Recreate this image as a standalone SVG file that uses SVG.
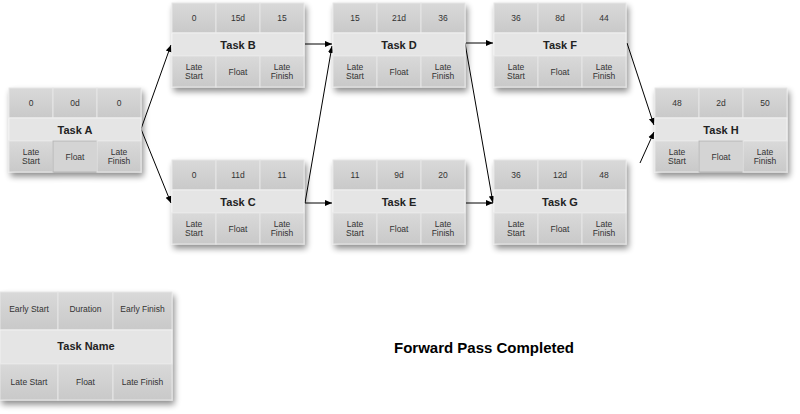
<svg xmlns="http://www.w3.org/2000/svg" width="800" height="414" viewBox="0 0 800 414">
<defs>
<filter id="sh" x="-10%" y="-10%" width="125%" height="135%">
<feGaussianBlur in="SourceAlpha" stdDeviation="3"/>
<feOffset dx="2" dy="4" result="b"/>
<feComponentTransfer><feFuncA type="linear" slope="0.45"/></feComponentTransfer>
<feMerge><feMergeNode/><feMergeNode in="SourceGraphic"/></feMerge>
</filter>
<linearGradient id="cell" x1="0" y1="0" x2="0" y2="1">
<stop offset="0" stop-color="#d9d9d9"/>
<stop offset="1" stop-color="#c9c9c9"/>
</linearGradient>
<marker id="ah" markerWidth="8" markerHeight="8" refX="7" refY="4" orient="auto" markerUnits="userSpaceOnUse">
<path d="M0,1 L7,4 L0,7 Z" fill="#000"/>
</marker>
</defs>
<style>
.cell{fill:url(#cell);stroke:#e6e6e6;stroke-width:1}
.mid{fill:#e5e5e5;stroke:#f2f2f2;stroke-width:1}
.flt{fill:#d4d4d4;stroke:#b0b0b0;stroke-width:0.8}
.num{font-family:"Liberation Sans",Arial,sans-serif;font-size:8.5px;fill:#333;text-anchor:middle}
.nm{font-family:"Liberation Sans",Arial,sans-serif;font-size:11px;font-weight:bold;fill:#222;text-anchor:middle}
.lg{font-family:"Liberation Sans",Arial,sans-serif;font-size:8.5px;fill:#333;text-anchor:middle}
.c{stroke:#000;stroke-width:1;fill:none;marker-end:url(#ah)}
.ttl{font-family:"Liberation Sans",Arial,sans-serif;font-size:15px;font-weight:bold;fill:#000;text-anchor:middle}
</style>

<g id="connectors">
<line class="c" x1="141" y1="129" x2="171" y2="45"/>
<line class="c" x1="141" y1="129" x2="171" y2="203"/>
<line class="c" x1="305" y1="44" x2="332" y2="44"/>
<line class="c" x1="305" y1="203" x2="332" y2="46"/>
<line class="c" x1="305" y1="203" x2="332" y2="203"/>
<line class="c" x1="466" y1="43" x2="493" y2="43"/>
<line class="c" x1="465" y1="43" x2="493" y2="203"/>
<line class="c" x1="466" y1="203" x2="493" y2="203"/>
<line class="c" x1="627" y1="43" x2="654" y2="125"/>
<line class="c" x1="640" y1="163" x2="654" y2="132"/>
</g>

<g id="taskA" transform="translate(9,88)">
<g filter="url(#sh)">
<rect class="cell" x="0" y="0" width="44" height="30"/><rect class="cell" x="44" y="0" width="44" height="30"/><rect class="cell" x="88" y="0" width="44" height="30"/>
<rect class="mid" x="0" y="30" width="132" height="23"/>
<rect class="cell" x="0" y="53" width="44" height="31"/><rect class="flt" x="44" y="53" width="44" height="31"/><rect class="cell" x="88" y="53" width="44" height="31"/>
</g>
<text class="num" x="22" y="18">0</text><text class="num" x="66" y="18">0d</text><text class="num" x="110" y="18">0</text>
<text class="nm" x="66" y="45.5">Task A</text>
<text class="num" x="22" y="67">Late</text><text class="num" x="22" y="76">Start</text>
<text class="num" x="66" y="71.5">Float</text>
<text class="num" x="110" y="67">Late</text><text class="num" x="110" y="76">Finish</text>
</g>

<g id="taskB" transform="translate(172,3)">
<g filter="url(#sh)">
<rect class="cell" x="0" y="0" width="44" height="30"/><rect class="cell" x="44" y="0" width="44" height="30"/><rect class="cell" x="88" y="0" width="44" height="30"/>
<rect class="mid" x="0" y="30" width="132" height="23"/>
<rect class="cell" x="0" y="53" width="44" height="31"/><rect class="cell" x="44" y="53" width="44" height="31"/><rect class="cell" x="88" y="53" width="44" height="31"/>
</g>
<text class="num" x="22" y="18">0</text><text class="num" x="66" y="18">15d</text><text class="num" x="110" y="18">15</text>
<text class="nm" x="66" y="45.5">Task B</text>
<text class="num" x="22" y="67">Late</text><text class="num" x="22" y="76">Start</text>
<text class="num" x="66" y="71.5">Float</text>
<text class="num" x="110" y="67">Late</text><text class="num" x="110" y="76">Finish</text>
</g>

<g id="taskC" transform="translate(172,160)">
<g filter="url(#sh)">
<rect class="cell" x="0" y="0" width="44" height="30"/><rect class="cell" x="44" y="0" width="44" height="30"/><rect class="cell" x="88" y="0" width="44" height="30"/>
<rect class="mid" x="0" y="30" width="132" height="23"/>
<rect class="cell" x="0" y="53" width="44" height="31"/><rect class="cell" x="44" y="53" width="44" height="31"/><rect class="cell" x="88" y="53" width="44" height="31"/>
</g>
<text class="num" x="22" y="18">0</text><text class="num" x="66" y="18">11d</text><text class="num" x="110" y="18">11</text>
<text class="nm" x="66" y="45.5">Task C</text>
<text class="num" x="22" y="67">Late</text><text class="num" x="22" y="76">Start</text>
<text class="num" x="66" y="71.5">Float</text>
<text class="num" x="110" y="67">Late</text><text class="num" x="110" y="76">Finish</text>
</g>

<g id="taskD" transform="translate(333,3)">
<g filter="url(#sh)">
<rect class="cell" x="0" y="0" width="44" height="30"/><rect class="cell" x="44" y="0" width="44" height="30"/><rect class="cell" x="88" y="0" width="44" height="30"/>
<rect class="mid" x="0" y="30" width="132" height="23"/>
<rect class="cell" x="0" y="53" width="44" height="31"/><rect class="cell" x="44" y="53" width="44" height="31"/><rect class="cell" x="88" y="53" width="44" height="31"/>
</g>
<text class="num" x="22" y="18">15</text><text class="num" x="66" y="18">21d</text><text class="num" x="110" y="18">36</text>
<text class="nm" x="66" y="45.5">Task D</text>
<text class="num" x="22" y="67">Late</text><text class="num" x="22" y="76">Start</text>
<text class="num" x="66" y="71.5">Float</text>
<text class="num" x="110" y="67">Late</text><text class="num" x="110" y="76">Finish</text>
</g>

<g id="taskE" transform="translate(333,160)">
<g filter="url(#sh)">
<rect class="cell" x="0" y="0" width="44" height="30"/><rect class="cell" x="44" y="0" width="44" height="30"/><rect class="cell" x="88" y="0" width="44" height="30"/>
<rect class="mid" x="0" y="30" width="132" height="23"/>
<rect class="cell" x="0" y="53" width="44" height="31"/><rect class="cell" x="44" y="53" width="44" height="31"/><rect class="cell" x="88" y="53" width="44" height="31"/>
</g>
<text class="num" x="22" y="18">11</text><text class="num" x="66" y="18">9d</text><text class="num" x="110" y="18">20</text>
<text class="nm" x="66" y="45.5">Task E</text>
<text class="num" x="22" y="67">Late</text><text class="num" x="22" y="76">Start</text>
<text class="num" x="66" y="71.5">Float</text>
<text class="num" x="110" y="67">Late</text><text class="num" x="110" y="76">Finish</text>
</g>

<g id="taskF" transform="translate(494,3)">
<g filter="url(#sh)">
<rect class="cell" x="0" y="0" width="44" height="30"/><rect class="cell" x="44" y="0" width="44" height="30"/><rect class="cell" x="88" y="0" width="44" height="30"/>
<rect class="mid" x="0" y="30" width="132" height="23"/>
<rect class="cell" x="0" y="53" width="44" height="31"/><rect class="cell" x="44" y="53" width="44" height="31"/><rect class="cell" x="88" y="53" width="44" height="31"/>
</g>
<text class="num" x="22" y="18">36</text><text class="num" x="66" y="18">8d</text><text class="num" x="110" y="18">44</text>
<text class="nm" x="66" y="45.5">Task F</text>
<text class="num" x="22" y="67">Late</text><text class="num" x="22" y="76">Start</text>
<text class="num" x="66" y="71.5">Float</text>
<text class="num" x="110" y="67">Late</text><text class="num" x="110" y="76">Finish</text>
</g>

<g id="taskG" transform="translate(494,160)">
<g filter="url(#sh)">
<rect class="cell" x="0" y="0" width="44" height="30"/><rect class="cell" x="44" y="0" width="44" height="30"/><rect class="cell" x="88" y="0" width="44" height="30"/>
<rect class="mid" x="0" y="30" width="132" height="23"/>
<rect class="cell" x="0" y="53" width="44" height="31"/><rect class="cell" x="44" y="53" width="44" height="31"/><rect class="cell" x="88" y="53" width="44" height="31"/>
</g>
<text class="num" x="22" y="18">36</text><text class="num" x="66" y="18">12d</text><text class="num" x="110" y="18">48</text>
<text class="nm" x="66" y="45.5">Task G</text>
<text class="num" x="22" y="67">Late</text><text class="num" x="22" y="76">Start</text>
<text class="num" x="66" y="71.5">Float</text>
<text class="num" x="110" y="67">Late</text><text class="num" x="110" y="76">Finish</text>
</g>

<g id="taskH" transform="translate(655,88)">
<g filter="url(#sh)">
<rect class="cell" x="0" y="0" width="44" height="30"/><rect class="cell" x="44" y="0" width="44" height="30"/><rect class="cell" x="88" y="0" width="44" height="30"/>
<rect class="mid" x="0" y="30" width="132" height="23"/>
<rect class="cell" x="0" y="53" width="44" height="31"/><rect class="flt" x="44" y="53" width="44" height="31"/><rect class="cell" x="88" y="53" width="44" height="31"/>
</g>
<text class="num" x="22" y="18">48</text><text class="num" x="66" y="18">2d</text><text class="num" x="110" y="18">50</text>
<text class="nm" x="66" y="45.5">Task H</text>
<text class="num" x="22" y="67">Late</text><text class="num" x="22" y="76">Start</text>
<text class="num" x="66" y="71.5">Float</text>
<text class="num" x="110" y="67">Late</text><text class="num" x="110" y="76">Finish</text>
</g>

<g id="legend" transform="translate(0,292)">
<g filter="url(#sh)">
<rect class="cell" x="0" y="0" width="58" height="38"/><rect class="cell" x="58" y="0" width="55" height="38"/><rect class="cell" x="113" y="0" width="59" height="38"/>
<rect class="mid" x="0" y="38" width="172" height="34"/>
<rect class="cell" x="0" y="72" width="58" height="36"/><rect class="cell" x="58" y="72" width="55" height="36"/><rect class="cell" x="113" y="72" width="59" height="36"/>
</g>
<text class="lg" x="29" y="20">Early Start</text><text class="lg" x="85.5" y="20">Duration</text><text class="lg" x="142.5" y="20">Early Finish</text>
<text class="nm" x="86" y="58">Task Name</text>
<text class="lg" x="29" y="93">Late Start</text><text class="lg" x="85.5" y="93">Float</text><text class="lg" x="142.5" y="93">Late Finish</text>
</g>

<text class="ttl" x="484" y="353">Forward Pass Completed</text>
</svg>
